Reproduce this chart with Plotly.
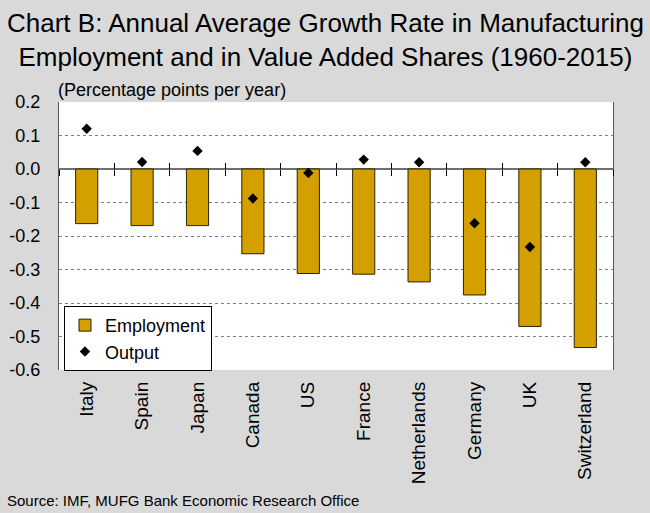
import plotly.graph_objects as go

categories = ["Italy", "Spain", "Japan", "Canada", "US", "France",
              "Netherlands", "Germany", "UK", "Switzerland"]
employment = [-0.163, -0.169, -0.169, -0.253, -0.312, -0.314,
              -0.337, -0.376, -0.470, -0.533]
output = [0.120, 0.021, 0.054, -0.088, -0.012, 0.028,
          0.020, -0.162, -0.233, 0.020]
y_tick_vals = [0.2, 0.1, 0.0, -0.1, -0.2, -0.3, -0.4, -0.5, -0.6]
y_tick_text = ["0.2", "0.1", "0.0", "-0.1", "-0.2", "-0.3", "-0.4", "-0.5", "-0.6"]

title_text = ("Chart B: Annual Average Growth Rate in Manufacturing<br>"
              "Employment and in Value Added Shares (1960-2015)")
unit_text = "(Percentage points per year)"
source_text = "Source: IMF, MUFG Bank Economic Research Office"

FONT = "Liberation Sans, Arial, sans-serif"

PLOT_H = 268  # pixel height of plot area, used to convert offsets

fig = go.Figure()
fig.add_bar(x=categories, y=employment, name="Employment", width=0.4,
            marker=dict(color="#D4A000", line=dict(color="#2b2200", width=1)))
fig.add_scatter(x=categories, y=output, mode="markers", name="Output",
                xaxis="x2",
                marker=dict(symbol="diamond", size=8, color="black"))
fig.add_scatter(x=categories, y=output, mode="markers", showlegend=False,
                hoverinfo="skip", xaxis="x3",
                marker=dict(symbol="diamond", size=8, color="rgba(0,0,0,0)"))

common_x = dict(type="category", range=[-0.5, 9.5], fixedrange=True,
                automargin=False)
fig.update_layout(
    width=650, height=513,
    margin=dict(l=59, r=37, t=102, b=143),
    paper_bgcolor="#d9d9d9", plot_bgcolor="white",
    font=dict(family=FONT, color="black", size=17),
    xaxis=dict(**common_x, tickangle=-90, ticks="", showgrid=False,
               showline=False, tickfont=dict(size=19), ticklabelstandoff=7),
    xaxis2=dict(**common_x, overlaying="x", anchor="free", position=0.75,
                tickson="boundaries", ticks="outside", ticklen=6,
                tickcolor="black", tickwidth=1, showticklabels=False,
                showgrid=False, showline=False),
    xaxis3=dict(**common_x, overlaying="x", anchor="free", position=0.75,
                tickson="boundaries", ticks="inside", ticklen=6,
                tickcolor="black", tickwidth=1, showticklabels=False,
                showgrid=False, showline=False),
    yaxis=dict(range=[-0.6, 0.2], tickvals=y_tick_vals, ticktext=y_tick_text,
               showgrid=True, gridcolor="#7f7f7f", griddash="dot", gridwidth=1,
               zeroline=True, zerolinecolor="#6f6f6f", zerolinewidth=2,
               showline=True, linecolor="#595959", linewidth=1, mirror=True,
               ticks="", tickfont=dict(size=18), ticklabelstandoff=14,
               fixedrange=True, automargin=False),
    legend=dict(x=0.009, y=0.239, xanchor="left", yanchor="top",
                bgcolor="white", bordercolor="black", borderwidth=1,
                font=dict(size=18), entrywidth=170, entrywidthmode="pixels",
                traceorder="normal"),
    showlegend=True,
    annotations=[
        dict(text=title_text, xref="paper", yref="paper", x=0.5, xshift=-11,
             y=1 + 96 / PLOT_H, xanchor="center", yanchor="top",
             showarrow=False, font=dict(size=26)),
        dict(text=unit_text, xref="paper", yref="paper", x=0, y=1,
             xanchor="left", yanchor="bottom", xshift=-3, yshift=0,
             showarrow=False, font=dict(size=18)),
        dict(text=source_text, xref="paper", yref="paper", x=0,
             y=-143 / PLOT_H, xanchor="left", yanchor="bottom", xshift=-54,
             yshift=2, showarrow=False, font=dict(size=15)),
    ],
)

fig.write_html("out.html")
